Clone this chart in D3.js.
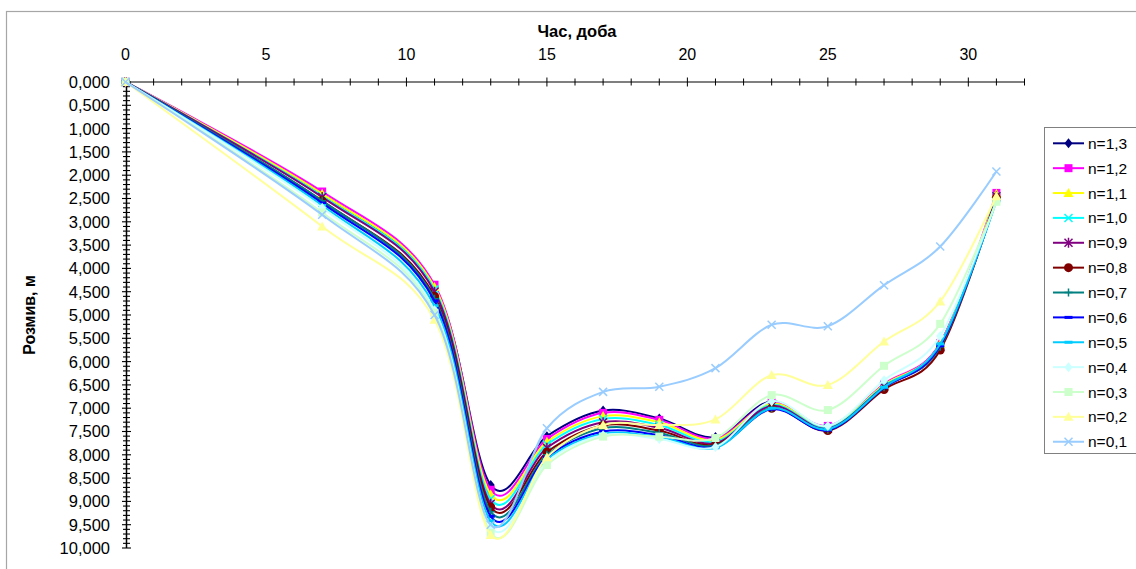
<!DOCTYPE html>
<html><head><meta charset="utf-8">
<script src="https://cdn.jsdelivr.net/npm/d3@7"></script>
<style>body{margin:0;background:#fff;}svg{display:block;font-family:"Liberation Sans",Arial,sans-serif;}</style>
</head><body>
<svg id="c" width="1136" height="569"></svg>
<script>
const days = [0, 7, 11, 13, 15, 17, 19, 21, 23, 25, 27, 29, 31];
const seriesNames = ["n=1,3","n=1,2","n=1,1","n=1,0","n=0,9","n=0,8","n=0,7","n=0,6","n=0,5","n=0,4","n=0,3","n=0,2","n=0,1"];
const n13 = [0, 2.40, 4.40, 8.65, 7.60, 7.05, 7.22, 7.62, 6.85, 7.40, 6.50, 5.62, 2.42];
const n12 = [0, 2.35, 4.35, 8.75, 7.66, 7.10, 7.25, 7.65, 6.88, 7.38, 6.48, 5.60, 2.38];
const n11 = [0, 2.40, 4.40, 8.85, 7.72, 7.17, 7.30, 7.68, 6.90, 7.40, 6.50, 5.62, 2.40];
const n10 = [0, 2.45, 4.45, 8.95, 7.78, 7.23, 7.36, 7.72, 6.93, 7.42, 6.52, 5.65, 2.45];
const n09 = [0, 2.47, 4.50, 9.05, 7.85, 7.30, 7.42, 7.75, 6.95, 7.44, 6.54, 5.68, 2.45];
const n08 = [0, 2.55, 4.60, 9.12, 7.94, 7.37, 7.48, 7.78, 7.00, 7.48, 6.60, 5.75, 2.48];
const n07 = [0, 2.55, 4.65, 9.22, 8.00, 7.43, 7.53, 7.80, 7.00, 7.46, 6.55, 5.68, 2.50];
const n06 = [0, 2.60, 4.70, 9.32, 8.05, 7.50, 7.58, 7.83, 7.02, 7.47, 6.56, 5.66, 2.52];
const n05 = [0, 2.65, 4.80, 9.42, 8.10, 7.55, 7.62, 7.85, 7.00, 7.45, 6.55, 5.62, 2.55];
const n04 = [0, 2.70, 4.90, 9.55, 8.15, 7.58, 7.66, 7.83, 6.85, 7.38, 6.40, 5.45, 2.55];
const n03 = [0, 2.80, 4.95, 9.68, 8.22, 7.61, 7.61, 7.64, 6.72, 7.04, 6.09, 5.19, 2.57];
const n02 = [0, 3.10, 5.10, 9.72, 8.05, 7.36, 7.36, 7.24, 6.29, 6.50, 5.57, 4.71, 2.45];
const n01 = [0, 2.85, 5.00, 9.50, 7.43, 6.65, 6.54, 6.14, 5.21, 5.24, 4.36, 3.53, 1.92];
const seriesValues = [n13,n12,n11,n10,n09,n08,n07,n06,n05,n04,n03,n02,n01];
const xTicks = [0, 5, 10, 15, 20, 25, 30];
const yTicks = d3.range(0, 10.001, 0.5);

const colors = ["#000080","#FF00FF","#FFFF00","#00FFFF","#800080","#800000","#008080","#0000FF","#00CCFF","#CCFFFF","#CCFFCC","#FFFF99","#99CCFF"];
const markers = ["diamond","square","triangle","x","star","circle","plus","dash","dash","diamond","square","triangle","x"];

const svg = d3.select("#c");
const x = d3.scaleLinear().domain([0, 32]).range([125.5, 1024.5]);
const y = d3.scaleLinear().domain([0, 10]).range([82, 548]);

// outer chart border
svg.append("rect").attr("x",6.5).attr("y",11.5).attr("width",1200).attr("height",700)
  .attr("fill","none").attr("stroke","#a6a6a6").attr("stroke-width",1.2);

// X axis (top)
const gx = svg.append("g");
gx.append("line").attr("x1",x(0)).attr("x2",x(32)).attr("y1",y(0)).attr("y2",y(0)).attr("stroke","#000").attr("stroke-width",1.2);
d3.range(0,33,1).forEach(t=>{
  const major = t%5===0;
  gx.append("line").attr("x1",x(t)).attr("x2",x(t)).attr("y1",y(0)-(major?4.5:3.5)).attr("y2",y(0)+(major?4.5:3.5)).attr("stroke","#000").attr("stroke-width",1);
});
xTicks.forEach(t=>{
  gx.append("text").attr("x",x(t)).attr("y",60).attr("text-anchor","middle").attr("font-size",16).text(t);
});
svg.append("text").attr("x",577).attr("y",37).attr("text-anchor","middle").attr("font-size",16.5).attr("font-weight","bold").text("Час, доба");

// Y axis
const gy = svg.append("g");
gy.append("line").attr("x1",x(0)+1).attr("x2",x(0)+1).attr("y1",y(0)).attr("y2",y(10)).attr("stroke","#000").attr("stroke-width",1.5);
d3.range(0,101,1).forEach(i=>{
  const v=i/10, major = i%5===0;
  gy.append("line").attr("x1",x(0)+1-(major?4.5:3.5)).attr("x2",x(0)+1+(major?4.5:3.5)).attr("y1",y(v)).attr("y2",y(v)).attr("stroke","#000").attr("stroke-width",1.1);
});
const fmt = d3.format(".3f");
yTicks.forEach(v=>{
  gy.append("text").attr("x",110).attr("y",y(v)).attr("dy","0.36em").attr("text-anchor","end").attr("font-size",16.5).text(fmt(v).replace(".",","));
});
svg.append("text").attr("transform","translate(35,315) rotate(-90)").attr("text-anchor","middle").attr("font-size",16).attr("font-weight","bold").text("Розмив, м");

// markers
function drawMarker(g, type, cx, cy, color){
  const s = 4;
  if(type==="diamond") g.append("path").attr("d",`M${cx},${cy-s-1}L${cx+s},${cy}L${cx},${cy+s+1}L${cx-s},${cy}Z`).attr("fill",color);
  else if(type==="square") g.append("rect").attr("x",cx-s).attr("y",cy-s).attr("width",2*s).attr("height",2*s).attr("fill",color);
  else if(type==="triangle") g.append("path").attr("d",`M${cx},${cy-s-1}L${cx+s+1},${cy+s}L${cx-s-1},${cy+s}Z`).attr("fill",color);
  else if(type==="circle") g.append("circle").attr("cx",cx).attr("cy",cy).attr("r",s+0.5).attr("fill",color);
  else if(type==="x") g.append("path").attr("d",`M${cx-s},${cy-s}L${cx+s},${cy+s}M${cx-s},${cy+s}L${cx+s},${cy-s}`).attr("stroke",color).attr("stroke-width",1.5).attr("fill","none");
  else if(type==="star") g.append("path").attr("d",`M${cx-s},${cy-s}L${cx+s},${cy+s}M${cx-s},${cy+s}L${cx+s},${cy-s}M${cx},${cy-s-1}L${cx},${cy+s+1}`).attr("stroke",color).attr("stroke-width",1.5).attr("fill","none");
  else if(type==="plus") g.append("path").attr("d",`M${cx-s},${cy}L${cx+s},${cy}M${cx},${cy-s}L${cx},${cy+s}`).attr("stroke",color).attr("stroke-width",1.5).attr("fill","none");
  else if(type==="dash") g.append("rect").attr("x",cx-s).attr("y",cy-1.5).attr("width",2*s).attr("height",3).attr("fill",color);
}

const line = d3.line().x(d=>x(d[0])).y(d=>y(d[1])).curve(d3.curveCardinal.tension(0));
const plot = svg.append("g");
seriesValues.forEach((vals,i)=>{
  const pts = days.map((t,j)=>[t, vals[j]]);
  const g = plot.append("g");
  g.append("path").attr("d",line(pts)).attr("fill","none").attr("stroke",colors[i]).attr("stroke-width",2);
  pts.forEach(p=>drawMarker(g, markers[i], x(p[0]), y(p[1]), colors[i]));
});

// legend
const lg = svg.append("g");
lg.append("rect").attr("x",1044.5).attr("y",127.5).attr("width",100).attr("height",326).attr("fill","#fff").attr("stroke","#808080").attr("stroke-width",1);
seriesNames.forEach((nm,i)=>{
  const ly = 143.3 + i*24.87;
  lg.append("line").attr("x1",1053).attr("x2",1084).attr("y1",ly).attr("y2",ly).attr("stroke",colors[i]).attr("stroke-width",2);
  drawMarker(lg, markers[i], 1068.5, ly, colors[i]);
  lg.append("text").attr("x",1088).attr("y",ly).attr("dy","0.36em").attr("font-size",15.5).text(nm);
});
</script>
</body></html>
